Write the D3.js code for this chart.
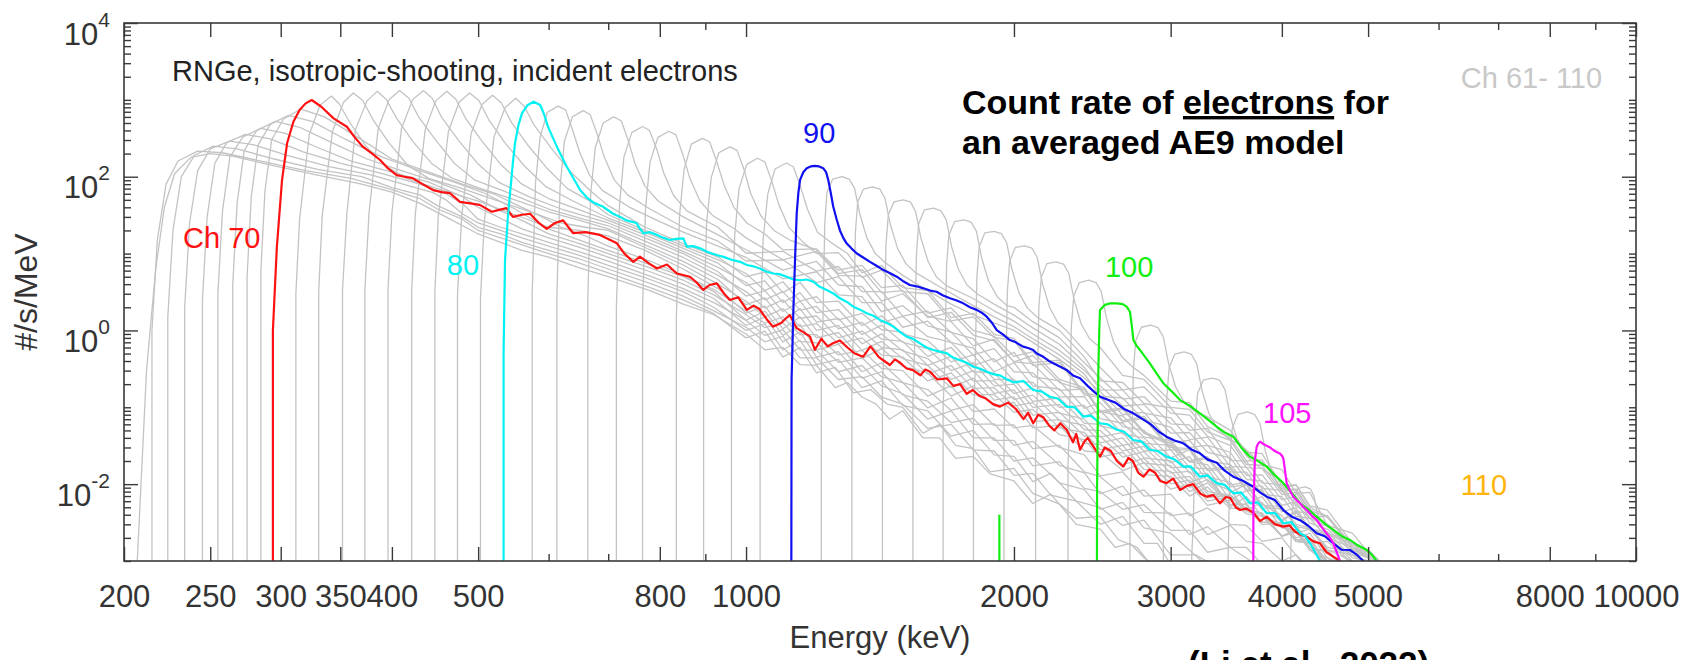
<!DOCTYPE html>
<html>
<head>
<meta charset="utf-8">
<script src="https://cdn.jsdelivr.net/npm/d3@7"></script>
<style>
  body { margin: 0; background: #fff; }
  svg { display: block; font-family: "Liberation Sans", Arial, Helvetica, sans-serif; }
</style>
</head>
<body>
<script>
var w = 1683;
var h = 660;
var plotLeft = 124, plotRight = 1636, plotTop = 23, plotBottom = 561;

// ---- tick labels ----
var xTickValues = [200, 250, 300, 350, 400, 500, 800, 1000, 2000, 3000, 4000, 5000, 8000, 10000];
var xMinorValues = [600, 700, 900, 6000, 7000, 9000];
var yTickValues = [1e4, 1e2, 1, 1e-2];
var yTickExponents = ["4", "2", "0", "-2"];

// ---- channel labels (energy keV, count rate) ----
var labelText = ["Ch 70", "80", "90", "100", "105", "110", "Ch 61- 110"];
var labelE = [233, 461, 1159, 2531, 3810, 6355, 6355];
var labelV = [11.8, 5.26, 275, 4.96, 0.0625, 0.00723, 1426];

// ---- highlighted channels [energy keV, #/s/MeV] ----
var ch70 = [[294,1e-4],[294,1],[297,12],[301,90],[305,272],[310,520],[315,738],[320,900],[325,996],[333,820],[344,575],[356,447],[363,330],[371,246],[380,200],[388,165],[396,128],[405,105],[413,100],[422,96],[433,80],[445,67],[455,63],[465,61],[477,47],[490,45],[502,43],[518,35],[528,37],[538,39],[547,30],[560,32],[572,33],[585,25],[597,21],[610,25],[623,27],[639,18.5],[660,19],[685,17.5],[700,15.5],[716,13.6],[730,10],[747,7.8],[760,9.1],[777,7.5],[794,6.4],[815,7.2],[836,5.5],[865,5.0],[880,4.2],[895,3.36],[910,3.9],[927,4.1],[945,3.0],[959,2.49],[980,2.7],[1002,1.85],[1020,2.1],[1035,1.9],[1055,1.4],[1072,1.12],[1095,1.25],[1110,1.45],[1120,1.58],[1140,1.07],[1160,0.95],[1180,0.83],[1195,0.56],[1215,0.78],[1235,0.62],[1252,0.68],[1275,0.74],[1300,0.6],[1325,0.5],[1354,0.455],[1380,0.62],[1410,0.45],[1430,0.4],[1451,0.355],[1470,0.42],[1490,0.38],[1515,0.32],[1540,0.305],[1570,0.26],[1590,0.31],[1610,0.29],[1640,0.23],[1681,0.238],[1710,0.19],[1740,0.2],[1770,0.15],[1798,0.168],[1830,0.14],[1860,0.13],[1895,0.11],[1929,0.102],[1970,0.115],[2010,0.095],[2050,0.07],[2075,0.085],[2102,0.062],[2130,0.08],[2156,0.075],[2190,0.058],[2220,0.05],[2255,0.062],[2292,0.051],[2330,0.035],[2350,0.045],[2373,0.028],[2400,0.036],[2420,0.04],[2460,0.03],[2499,0.0228],[2530,0.03],[2570,0.027],[2610,0.02],[2654,0.0169],[2690,0.022],[2720,0.02],[2760,0.014],[2796,0.0125],[2840,0.0155],[2880,0.0142],[2920,0.011],[2968,0.0103],[3020,0.0118],[3074,0.0084],[3130,0.0095],[3180,0.01],[3240,0.0075],[3294,0.00687],[3350,0.0072],[3409,0.00563],[3460,0.0068],[3500,0.0066],[3550,0.005],[3590,0.00461],[3650,0.0048],[3720,0.0042],[3780,0.0033],[3846,0.00378],[3930,0.003],[4014,0.0028],[4080,0.0029],[4140,0.0024],[4200,0.0022],[4266,0.00207],[4340,0.0018],[4414,0.0017],[4490,0.0013],[4570,0.00114],[4649,0.001],[4700,0.0008]];
var ch80 = [[534,1e-4],[534,0.5],[536,8.2],[540,30],[543,61],[547,150],[550,272],[555,470],[560,668],[568,850],[577,946],[587,857],[593,650],[599,448],[606,330],[613,246],[621,180],[629,135],[640,95],[651,67],[662,54],[674,46],[690,41],[709,33],[722,30],[734,27],[753,25],[760,21],[767,18.4],[780,19],[794,17.5],[808,16],[821,15],[835,15.5],[850,15.8],[858,12.3],[872,12.5],[888,11.7],[905,10.5],[927,9.6],[945,9.0],[967,8.2],[985,7.8],[1002,7.1],[1020,6.8],[1037,6.4],[1055,5.8],[1073,5.5],[1090,5.4],[1111,5.0],[1130,4.6],[1150,4.5],[1170,4.6],[1190,4.3],[1210,3.7],[1232,3.36],[1255,3.0],[1275,2.62],[1298,2.35],[1320,2.04],[1345,1.85],[1366,1.67],[1390,1.55],[1414,1.37],[1440,1.25],[1464,1.12],[1490,0.95],[1515,0.83],[1540,0.78],[1568,0.68],[1595,0.6],[1624,0.557],[1650,0.53],[1681,0.505],[1710,0.44],[1740,0.41],[1770,0.38],[1800,0.337],[1830,0.32],[1864,0.29],[1895,0.27],[1929,0.26],[1965,0.23],[2000,0.21],[2050,0.22],[2102,0.168],[2150,0.16],[2195,0.137],[2240,0.13],[2292,0.102],[2340,0.1],[2393,0.0755],[2440,0.078],[2499,0.062],[2550,0.06],[2609,0.051],[2660,0.048],[2724,0.0375],[2780,0.036],[2843,0.028],[2900,0.027],[2968,0.0228],[3030,0.021],[3099,0.0169],[3160,0.017],[3236,0.0125],[3300,0.013],[3379,0.0103],[3450,0.0098],[3528,0.0076],[3600,0.0078],[3683,0.00563],[3760,0.0058],[3846,0.00418],[3930,0.0042],[4015,0.0031],[4100,0.0032],[4192,0.0023],[4250,0.0021],[4302,0.0017],[4360,0.0013],[4414,0.001],[4450,0.0008]];
var ch90 = [[1124,1e-4],[1125,0.23],[1130,1.67],[1135,8],[1140,33],[1145,62],[1150,91],[1160,115],[1170,129],[1182,136],[1195,138],[1208,136],[1221,129],[1230,115],[1237,91],[1245,62],[1253,41],[1264,28],[1275,20],[1286,16],[1297,13.6],[1314,11.6],[1331,10.1],[1354,8.9],[1378,7.8],[1400,7.0],[1427,6.1],[1450,5.6],[1477,5.0],[1500,4.4],[1528,3.9],[1555,3.75],[1582,3.53],[1610,3.3],[1637,3.19],[1665,2.85],[1695,2.62],[1725,2.45],[1754,2.25],[1785,2.0],[1816,1.85],[1840,1.7],[1864,1.51],[1890,1.25],[1913,1.01],[1945,0.88],[1979,0.75],[2010,0.7],[2048,0.615],[2075,0.59],[2102,0.557],[2120,0.505],[2160,0.45],[2195,0.393],[2240,0.35],[2292,0.306],[2330,0.26],[2373,0.238],[2420,0.19],[2460,0.16],[2499,0.137],[2550,0.125],[2600,0.115],[2660,0.095],[2724,0.0835],[2790,0.07],[2850,0.06],[2910,0.048],[2968,0.0415],[3030,0.037],[3100,0.034],[3170,0.028],[3236,0.0252],[3300,0.021],[3380,0.019],[3450,0.015],[3528,0.0125],[3620,0.011],[3714,0.00927],[3780,0.0078],[3846,0.00687],[3930,0.0062],[4015,0.0046],[4100,0.0038],[4192,0.0034],[4280,0.0029],[4377,0.0023],[4470,0.0021],[4570,0.0017],[4670,0.0014],[4771,0.00139],[4860,0.0012],[4938,0.001],[4980,0.0008]];
var ch100 = [[2478,1e-4],[2480,0.01],[2488,0.3],[2494,1.0],[2499,1.85],[2530,2.15],[2565,2.25],[2610,2.25],[2650,2.2],[2677,2.04],[2700,1.75],[2712,1.2],[2724,0.75],[2745,0.64],[2771,0.557],[2805,0.46],[2843,0.373],[2890,0.28],[2944,0.205],[3010,0.16],[3074,0.124],[3150,0.105],[3236,0.0835],[3310,0.068],[3379,0.056],[3450,0.047],[3528,0.0415],[3600,0.03],[3683,0.0228],[3760,0.02],[3846,0.0169],[3930,0.013],[4015,0.0103],[4100,0.0078],[4192,0.00563],[4280,0.0047],[4377,0.00378],[4480,0.003],[4570,0.00254],[4670,0.0021],[4771,0.00188],[4870,0.0016],[4981,0.00139],[5050,0.0012],[5112,0.001],[5150,0.0008]];
var ch100Spike = [[1926,1e-4],[1926,0.004]];
var ch105 = [[3714,1e-4],[3716,0.005],[3730,0.02],[3748,0.0308],[3765,0.034],[3781,0.0357],[3810,0.0335],[3846,0.0315],[3880,0.03],[3912,0.0278],[3950,0.026],[3980,0.025],[4000,0.0235],[4015,0.0217],[4030,0.016],[4050,0.0103],[4085,0.0082],[4120,0.00687],[4155,0.0062],[4192,0.00563],[4230,0.005],[4266,0.0046],[4320,0.0039],[4377,0.00342],[4430,0.0028],[4491,0.00229],[4530,0.002],[4570,0.0017],[4610,0.0013],[4649,0.001],[4680,0.0008]];

// ---- the other channels of Ch 61-110, drawn in gray ----
var ch61 = [[205,1e-4],[212,0.3],[217,6],[222,40],[228,110],[238,180],[250,200],[265,185],[290,145],[330,105],[370,80],[400,63],[430,45],[460,30],[500,18],[530,14],[560,11],[600,9],[650,6.5],[700,5],[780,3.3],[850,2.2],[920,1.6],[1000,0.9],[1050,0.56],[1100,0.6],[1150,0.36],[1200,0.35],[1260,0.18],[1300,0.21],[1350,0.136],[1400,0.11],[1450,0.07],[1500,0.09],[1580,0.04],[1650,0.04],[1720,0.0216],[1800,0.023],[1880,0.0136],[2000,0.011],[2100,0.0056],[2200,0.0074],[2350,0.003],[2500,0.0026],[2600,0.0015],[2700,0.0017],[2800,0.0011],[2900,0.0008]];
var ch62 = [[215,1e-4],[215,1],[218,15],[223,80],[230,160],[242,215],[258,205],[285,160],[320,120],[360,95],[400,68],[430,52],[450,38],[480,28],[500,20],[530,16],[560,13],[600,10],[650,7.5],[700,5.6],[780,3.6],[850,2.5],[920,1.65],[1000,0.8],[1050,0.98],[1100,0.45],[1150,0.6],[1200,0.28],[1260,0.33],[1320,0.154],[1380,0.17],[1440,0.11],[1500,0.1],[1580,0.046],[1650,0.06],[1720,0.032],[1800,0.029],[1880,0.0144],[2000,0.016],[2100,0.0076],[2250,0.0055],[2350,0.0036],[2500,0.0038],[2620,0.0019],[2750,0.0015],[2850,0.0009],[3000,0.0008]];
var ch63 = [[224,1e-4],[224,1.5],[227,20],[232,100],[240,190],[252,250],[268,230],[295,170],[330,125],[370,100],[400,72],[430,58],[450,42],[480,30],[500,22],[530,18],[560,14],[600,11],[650,8.5],[700,6.3],[780,4.1],[850,2.8],[920,1.8],[1000,1.1],[1050,0.71],[1100,0.84],[1150,0.44],[1200,0.44],[1270,0.23],[1350,0.25],[1420,0.136],[1500,0.11],[1600,0.053],[1700,0.06],[1800,0.028],[1900,0.027],[2000,0.013],[2100,0.0138],[2200,0.0072],[2350,0.006],[2500,0.003],[2650,0.0038],[2800,0.0017],[2900,0.0017],[3000,0.0009],[3150,0.0008]];
var ch64 = [[234,1e-4],[234,2],[237,25],[242,120],[250,230],[263,290],[280,260],[305,190],[340,135],[380,105],[420,75],[445,62],[460,50],[480,33],[500,25],[530,20],[560,16],[600,12.5],[650,9.5],[700,7],[780,4.6],[850,3.2],[920,2.0],[1000,1.0],[1050,1.21],[1100,0.56],[1150,0.74],[1200,0.36],[1270,0.42],[1350,0.18],[1420,0.22],[1500,0.106],[1600,0.09],[1700,0.042],[1800,0.05],[1900,0.024],[2000,0.023],[2100,0.0108],[2200,0.0138],[2350,0.006],[2500,0.005],[2650,0.0029],[2800,0.0034],[3000,0.0012],[3200,0.0012],[3400,0.0008]];
var ch65 = [[245,1e-4],[245,2.5],[248,30],[253,150],[261,280],[274,355],[292,310],[318,210],[350,150],[390,110],[430,80],[460,60],[480,45],[500,28],[530,22],[560,18],[600,14],[650,10.5],[700,8],[780,5.1],[850,3.5],[920,2.3],[1000,1.35],[1050,0.86],[1100,1.02],[1150,0.56],[1200,0.55],[1270,0.29],[1350,0.35],[1420,0.19],[1500,0.15],[1600,0.07],[1700,0.09],[1800,0.04],[1900,0.04],[2000,0.02],[2100,0.022],[2250,0.0104],[2400,0.0085],[2500,0.0047],[2650,0.0058],[2800,0.0027],[3000,0.0023],[3250,0.001],[3500,0.0008]];
var ch66 = [[255,1e-4],[255,3],[258,35],[263,180],[272,330],[285,425],[303,370],[330,240],[360,160],[400,115],[440,85],[480,55],[500,40],[520,32],[560,21],[600,16],[650,12],[700,9],[780,5.8],[850,4],[920,2.6],[1000,1.16],[1050,1.5],[1100,0.71],[1150,0.96],[1200,0.45],[1270,0.53],[1350,0.24],[1420,0.29],[1500,0.145],[1600,0.12],[1700,0.063],[1800,0.072],[1900,0.037],[2000,0.037],[2100,0.0173],[2250,0.0196],[2400,0.0088],[2500,0.008],[2650,0.0047],[2800,0.0054],[3000,0.0025],[3150,0.0025],[3300,0.0013],[3500,0.0015],[3800,0.0008]];
var ch67 = [[265,1e-4],[265,4],[268,45],[273,220],[282,400],[296,525],[315,440],[342,280],[375,170],[410,120],[450,85],[490,58],[530,36],[560,27],[600,18],[650,13.5],[700,10],[780,6.5],[850,4.5],[920,2.9],[1000,1.6],[1050,1.09],[1100,1.26],[1150,0.72],[1200,0.69],[1270,0.385],[1350,0.44],[1420,0.25],[1500,0.21],[1600,0.098],[1700,0.132],[1800,0.06],[1900,0.061],[2000,0.032],[2100,0.036],[2250,0.0176],[2400,0.014],[2500,0.0075],[2650,0.0094],[2800,0.0043],[3000,0.0042],[3150,0.0022],[3300,0.0028],[3500,0.0015],[3650,0.0015],[3800,0.0009],[4000,0.0008]];
var ch68 = [[275,1e-4],[275,5],[278,55],[283,260],[292,480],[306,630],[326,520],[354,310],[390,180],[430,120],[470,85],[510,60],[550,38],[575,28],[600,21],[650,15],[700,11],[780,7.2],[850,5],[920,3.2],[1000,1.36],[1050,1.78],[1100,0.86],[1150,1.2],[1200,0.56],[1270,0.66],[1350,0.29],[1420,0.38],[1500,0.21],[1600,0.17],[1700,0.091],[1800,0.108],[1900,0.058],[2000,0.059],[2100,0.029],[2250,0.032],[2400,0.0144],[2500,0.0125],[2650,0.0071],[2800,0.0084],[3000,0.0039],[3150,0.0042],[3300,0.0022],[3500,0.0029],[3650,0.0018],[3800,0.0017],[4000,0.001],[4150,0.0012],[4300,0.0008]];
var ch69 = [[285,1e-4],[285,6],[288,65],[293,300],[302,560],[316,760],[336,600],[364,340],[400,170],[440,115],[480,80],[520,60],[560,40],[590,30],[620,22],[660,17],[700,12.5],[780,8],[850,5.2],[920,3.4],[1000,1.8],[1050,1.24],[1100,1.5],[1150,0.88],[1200,0.88],[1270,0.48],[1350,0.55],[1420,0.32],[1500,0.3],[1600,0.14],[1700,0.19],[1800,0.088],[1900,0.095],[2000,0.054],[2100,0.058],[2250,0.03],[2400,0.024],[2500,0.0128],[2650,0.0144],[2800,0.007],[3000,0.0074],[3150,0.0039],[3300,0.0049],[3500,0.003],[3650,0.0029],[3800,0.0018],[4000,0.002],[4200,0.001],[4400,0.0008]];
var ch71 = [[312,1e-4],[312,3],[315,28],[323,355],[332,850],[342,1120],[349,890],[359,500],[374,250],[393,140],[415,95],[450,70],[500,48],[550,32],[600,22],[650,20],[700,17],[770,11],[850,6.3],[930,3.5],[1000,1.68],[1050,2.07],[1100,1.05],[1150,1.5],[1200,0.8],[1270,0.94],[1350,0.43],[1420,0.58],[1500,0.34],[1600,0.28],[1700,0.14],[1800,0.19],[1900,0.104],[2000,0.116],[2100,0.054],[2250,0.058],[2400,0.027],[2500,0.026],[2650,0.015],[2800,0.019],[3000,0.0086],[3150,0.01],[3300,0.0053],[3500,0.0062],[3650,0.0041],[3800,0.0038],[4000,0.0021],[4150,0.0026],[4300,0.0015],[4500,0.0013],[4700,0.0008]];
var ch72 = [[331,1e-4],[331,3.2],[334,31],[343,390],[353,930],[362,1230],[371,980],[381,550],[397,275],[417,140],[440,95],[480,70],[530,47],[580,33],[620,25],[660,22],[700,20],[770,12],[850,7.1],[930,4],[1000,2.4],[1050,1.5],[1100,1.92],[1150,1.12],[1200,1.23],[1270,0.67],[1350,0.8],[1420,0.48],[1500,0.45],[1600,0.22],[1700,0.28],[1800,0.144],[1900,0.147],[2000,0.086],[2100,0.094],[2250,0.044],[2400,0.038],[2500,0.0225],[2650,0.026],[2800,0.0133],[3000,0.0126],[3150,0.007],[3300,0.0092],[3500,0.0048],[3650,0.005],[3800,0.003],[4000,0.0031],[4150,0.0019],[4300,0.0019],[4500,0.001],[4700,0.0008]];
var ch73 = [[352,1e-4],[352,3.3],[356,33],[364,410],[375,970],[385,1290],[394,1020],[405,575],[422,290],[443,150],[468,95],[500,72],[550,50],[600,35],[650,27],[700,21],[770,13],[850,7.9],[930,4.6],[1000,2.16],[1050,2.65],[1100,1.35],[1150,1.92],[1200,1.0],[1270,1.16],[1350,0.55],[1420,0.72],[1500,0.43],[1600,0.35],[1700,0.18],[1800,0.24],[1900,0.124],[2000,0.137],[2100,0.065],[2250,0.069],[2400,0.034],[2500,0.033],[2650,0.018],[2800,0.0216],[3000,0.0101],[3150,0.0113],[3300,0.006],[3500,0.0069],[3650,0.0044],[3800,0.004],[4000,0.0021],[4150,0.0025],[4300,0.0014],[4500,0.0011],[4650,0.0008]];
var ch74 = [[373,1e-4],[373,3.4],[377,34],[386,420],[397,1000],[408,1320],[418,1050],[429,590],[448,300],[470,150],[496,90],[540,62],[600,38],[650,29],[700,23],[770,14.5],[850,8.9],[930,5.2],[1000,3.2],[1050,1.95],[1100,2.5],[1150,1.44],[1200,1.54],[1270,0.8],[1350,0.98],[1420,0.6],[1500,0.56],[1600,0.27],[1700,0.35],[1800,0.176],[1900,0.18],[2000,0.104],[2100,0.115],[2250,0.054],[2400,0.047],[2500,0.028],[2650,0.032],[2800,0.0156],[3000,0.0147],[3150,0.008],[3300,0.0104],[3500,0.0054],[3650,0.0054],[3800,0.0032],[4000,0.0031],[4150,0.0018],[4300,0.0018],[4500,0.0009],[4650,0.0008]];
var ch75 = [[396,1e-4],[396,3.4],[400,34],[410,420],[422,1000],[434,1320],[444,1050],[455,590],[475,300],[499,150],[527,85],[570,55],[620,38],[700,25],[770,16],[850,10],[930,5.8],[1000,2.8],[1050,3.3],[1100,1.76],[1150,2.4],[1200,1.28],[1270,1.43],[1350,0.67],[1420,0.9],[1500,0.54],[1600,0.43],[1700,0.23],[1800,0.3],[1900,0.152],[2000,0.168],[2100,0.079],[2250,0.086],[2400,0.042],[2500,0.042],[2650,0.0225],[2800,0.0264],[3000,0.0117],[3150,0.0126],[3300,0.0067],[3500,0.0072],[3650,0.0047],[3800,0.0042],[4000,0.0021],[4150,0.0024],[4300,0.0014],[4500,0.001],[4600,0.0008]];
var ch76 = [[421,1e-4],[421,3.3],[425,33],[436,410],[448,970],[461,1290],[472,1020],[484,575],[505,290],[530,145],[560,80],[600,52],[650,37],[700,27],[770,17.5],[850,10.7],[930,6.6],[1000,4.2],[1050,2.5],[1100,3.2],[1150,1.84],[1200,2.05],[1270,1.05],[1350,1.27],[1420,0.77],[1500,0.72],[1600,0.35],[1700,0.46],[1800,0.22],[1900,0.22],[2000,0.126],[2100,0.144],[2250,0.068],[2400,0.058],[2500,0.0345],[2650,0.04],[2800,0.0187],[3000,0.0174],[3150,0.0091],[3300,0.0115],[3500,0.0054],[3650,0.0055],[3800,0.0032],[4000,0.0031],[4150,0.0018],[4300,0.0017],[4500,0.0008],[4600,0.0007]];
var ch77 = [[447,1e-4],[447,3.1],[451,31],[463,390],[476,930],[489,1230],[501,980],[514,550],[536,275],[563,140],[595,75],[640,48],[700,29],[770,19],[850,11.7],[930,7.5],[1000,3.84],[1050,4.4],[1100,2.3],[1150,3.1],[1200,1.7],[1270,1.87],[1350,0.88],[1420,1.17],[1500,0.7],[1600,0.58],[1700,0.3],[1800,0.38],[1900,0.19],[2000,0.2],[2100,0.1],[2250,0.109],[2400,0.051],[2500,0.05],[2650,0.027],[2800,0.031],[3000,0.014],[3150,0.0147],[3300,0.0074],[3500,0.0072],[3650,0.0047],[3800,0.0042],[4000,0.0021],[4150,0.0024],[4300,0.0014],[4500,0.001],[4600,0.0008]];
var ch78 = [[474,1e-4],[474,2.9],[479,29],[491,365],[505,870],[519,1150],[531,910],[545,510],[569,255],[597,130],[630,70],[670,47],[700,32],[770,20],[850,12.6],[930,8.3],[1000,5.5],[1050,3.3],[1100,4.3],[1150,2.4],[1200,2.75],[1270,1.37],[1350,1.67],[1420,1.02],[1500,0.95],[1600,0.46],[1700,0.6],[1800,0.29],[1900,0.28],[2000,0.151],[2100,0.178],[2250,0.084],[2400,0.07],[2500,0.041],[2650,0.047],[2800,0.022],[3000,0.02],[3150,0.0105],[3300,0.0127],[3500,0.0054],[3650,0.0055],[3800,0.0032],[4000,0.0031],[4150,0.0018],[4300,0.0017],[4500,0.0008],[4600,0.0007]];
var ch79 = [[503,1e-4],[503,2.6],[508,26],[521,330],[536,790],[551,1050],[563,830],[578,470],[604,235],[634,118],[669,65],[700,42],[770,22],[850,13.5],[930,9],[1000,5.0],[1050,5.75],[1100,3.1],[1150,4.2],[1200,2.3],[1270,2.4],[1350,1.16],[1420,1.55],[1500,0.9],[1600,0.74],[1700,0.39],[1800,0.48],[1900,0.23],[2000,0.23],[2100,0.119],[2250,0.132],[2400,0.062],[2500,0.06],[2650,0.032],[2800,0.036],[3000,0.0164],[3150,0.0168],[3300,0.008],[3500,0.0072],[3650,0.0047],[3800,0.0042],[4000,0.0021],[4150,0.0024],[4300,0.0014],[4450,0.001],[4550,0.0008]];
var ch81 = [[575,1e-4],[575,3],[580,83],[587,330],[598,690],[615,830],[627,740],[638,415],[650,210],[667,105],[690,66],[740,40],[800,26],[850,19],[930,12.5],[1000,8.9],[1100,4.7],[1200,5.8],[1270,2.9],[1350,2.75],[1420,1.26],[1500,1.52],[1600,0.83],[1700,0.7],[1800,0.35],[1900,0.43],[2000,0.22],[2100,0.21],[2250,0.1],[2400,0.106],[2500,0.057],[2650,0.05],[2800,0.027],[3000,0.028],[3150,0.014],[3300,0.0137],[3500,0.005],[3650,0.0069],[3800,0.0038],[4000,0.003],[4150,0.0018],[4300,0.002],[4500,0.0009],[4600,0.0008]];
var ch82 = [[613,1e-4],[613,3],[618,72],[625,290],[638,600],[656,725],[668,645],[680,365],[693,180],[711,91],[736,58],[780,38],[850,22],[930,14.5],[1000,8],[1100,8.3],[1200,4.2],[1270,5.0],[1350,2.3],[1420,2.3],[1500,1.1],[1600,1.32],[1700,0.7],[1800,0.59],[1900,0.29],[2000,0.38],[2100,0.19],[2250,0.173],[2400,0.076],[2500,0.091],[2650,0.045],[2800,0.04],[3000,0.019],[3150,0.0228],[3300,0.0109],[3500,0.0083],[3650,0.0046],[3800,0.0058],[4000,0.0027],[4150,0.0025],[4300,0.0014],[4500,0.0014],[4700,0.0008]];
var ch83 = [[664,1e-4],[664,2.5],[669,60],[677,240],[691,500],[710,600],[724,535],[737,300],[750,150],[770,75],[797,48],[850,30],[930,17.5],[1000,11.2],[1100,6.1],[1200,7.9],[1270,3.9],[1350,3.7],[1420,1.75],[1500,2.1],[1600,1.15],[1700,0.95],[1800,0.48],[1900,0.58],[2000,0.29],[2100,0.28],[2250,0.137],[2400,0.138],[2500,0.071],[2650,0.062],[2800,0.034],[3000,0.032],[3150,0.0164],[3300,0.0158],[3500,0.0062],[3650,0.0083],[3800,0.0047],[4000,0.0034],[4150,0.002],[4300,0.0023],[4500,0.0011],[4800,0.0008]];
var ch84 = [[715,1e-4],[715,2],[721,45],[729,180],[744,375],[765,450],[779,400],[794,225],[808,113],[829,57],[858,36],[930,22],[1000,10.1],[1100,10.7],[1200,5.9],[1270,6.8],[1350,3.2],[1420,3.2],[1500,1.54],[1600,1.78],[1700,0.94],[1800,0.78],[1900,0.39],[2000,0.52],[2100,0.25],[2250,0.22],[2400,0.097],[2500,0.115],[2650,0.056],[2800,0.05],[3000,0.022],[3150,0.028],[3300,0.0125],[3500,0.0105],[3650,0.0056],[3800,0.0069],[4000,0.0031],[4150,0.0029],[4300,0.0017],[4500,0.0018],[4800,0.0009],[5000,0.0007]];
var ch85 = [[765,1e-4],[765,1.8],[771,39],[780,155],[796,325],[819,390],[834,350],[849,195],[864,98],[887,49],[918,31],[970,21],[1000,16],[1100,8.3],[1200,10.7],[1270,5.2],[1350,5.1],[1420,2.4],[1500,3.0],[1600,1.53],[1700,1.3],[1800,0.63],[1900,0.77],[2000,0.39],[2100,0.37],[2250,0.166],[2400,0.173],[2500,0.088],[2650,0.077],[2800,0.041],[3000,0.037],[3150,0.0195],[3300,0.0179],[3500,0.0077],[3650,0.01],[3800,0.0055],[4000,0.0039],[4150,0.0023],[4300,0.0026],[4500,0.0014],[4800,0.001],[5000,0.0008]];
var ch86 = [[835,1e-4],[835,1.5],[842,32],[852,126],[868,265],[893,316],[910,285],[927,158],[944,80],[969,40],[1002,25],[1050,18],[1100,11.2],[1200,11.5],[1270,5.5],[1350,6.2],[1420,3.1],[1500,3.3],[1600,1.47],[1700,1.72],[1800,0.87],[1900,0.73],[2000,0.39],[2100,0.47],[2250,0.21],[2400,0.168],[2500,0.085],[2650,0.094],[2800,0.046],[3000,0.032],[3150,0.0195],[3300,0.0216],[3500,0.0092],[3650,0.0098],[3800,0.0049],[4000,0.0048],[4150,0.0028],[4300,0.0026],[4500,0.0014],[4800,0.0012],[5000,0.0009]];
var ch87 = [[896,1e-4],[896,1.2],[903,25],[914,98],[932,205],[959,245],[977,220],[995,123],[1012,61],[1039,31],[1075,20],[1120,15],[1200,11.2],[1270,6.1],[1350,7.0],[1420,3.6],[1500,3.85],[1600,1.68],[1700,1.96],[1800,1.0],[1900,0.84],[2000,0.46],[2100,0.53],[2250,0.23],[2400,0.18],[2500,0.089],[2650,0.098],[2800,0.048],[3000,0.034],[3150,0.02],[3300,0.0228],[3500,0.0098],[3650,0.0105],[3800,0.0053],[4000,0.0051],[4150,0.003],[4300,0.0027],[4500,0.0015],[4800,0.0013],[5000,0.0009]];
var ch88 = [[963,1e-4],[963,0.9],[971,17],[982,70],[1002,145],[1030,174],[1050,155],[1069,87],[1088,44],[1117,22],[1156,14.5],[1200,10],[1270,10.3],[1350,4.9],[1420,6.1],[1500,3.2],[1600,3.0],[1700,1.33],[1800,1.5],[1900,0.81],[2000,0.74],[2100,0.35],[2250,0.38],[2400,0.144],[2500,0.135],[2650,0.064],[2800,0.072],[3000,0.028],[3150,0.028],[3300,0.015],[3500,0.0158],[3650,0.0082],[3800,0.0082],[4000,0.0033],[4150,0.0043],[4300,0.0025],[4500,0.0021],[4800,0.0009],[5000,0.0009]];
var ch89 = [[1037,1e-4],[1037,0.8],[1045,15],[1058,60],[1078,126],[1110,151],[1130,135],[1151,75],[1172,38],[1203,19],[1245,14],[1300,10],[1350,5.6],[1420,7.0],[1500,3.6],[1600,3.3],[1700,1.47],[1800,1.67],[1900,0.89],[2000,0.79],[2100,0.38],[2250,0.41],[2400,0.152],[2500,0.142],[2650,0.067],[2800,0.076],[3000,0.03],[3150,0.029],[3300,0.0158],[3500,0.0166],[3650,0.0086],[3800,0.0085],[4000,0.0034],[4150,0.0045],[4300,0.0026],[4500,0.0022],[4800,0.001],[5000,0.0009]];
var ch91 = [[1215,1e-4],[1215,0.3],[1220,1.3],[1226,25],[1233,63],[1251,93],[1282,100],[1306,93],[1324,71],[1343,32],[1367,16],[1397,10],[1434,7.6],[1500,5.2],[1600,3.3],[1700,2.2],[1800,1.6],[1900,1.25],[2000,1.0],[2100,0.7],[2250,0.42],[2400,0.24],[2500,0.16],[2650,0.08],[2800,0.086],[3000,0.035],[3150,0.037],[3300,0.02],[3500,0.018],[3650,0.0098],[3800,0.0094],[4000,0.0044],[4150,0.0049],[4300,0.0026],[4500,0.0024],[4800,0.0011],[5000,0.001],[5100,0.0008]];
var ch92 = [[1315,1e-4],[1315,0.25],[1320,0.93],[1327,19],[1335,47],[1355,69],[1387,74],[1414,69],[1433,52],[1453,23.5],[1480,11.7],[1512,7.4],[1552,5.6],[1650,3.7],[1800,2.1],[1900,1.5],[2000,1.12],[2100,0.78],[2250,0.48],[2400,0.27],[2500,0.14],[2650,0.132],[2800,0.068],[3000,0.055],[3150,0.03],[3300,0.032],[3500,0.0143],[3650,0.0143],[3800,0.0074],[4000,0.0069],[4150,0.0038],[4300,0.0036],[4500,0.002],[4800,0.0015],[5000,0.0011],[5150,0.0008]];
var ch93 = [[1423,1e-4],[1423,0.18],[1429,0.63],[1436,12.6],[1445,32],[1466,47],[1501,50],[1530,47],[1551,35],[1572,16],[1601,8],[1636,5],[1680,3.8],[1800,2.6],[1900,1.8],[2000,1.32],[2100,0.9],[2250,0.55],[2400,0.3],[2500,0.19],[2650,0.104],[2800,0.109],[3000,0.046],[3150,0.047],[3300,0.026],[3500,0.022],[3650,0.0115],[3800,0.011],[4000,0.0053],[4150,0.0059],[4300,0.0031],[4500,0.0026],[4800,0.0013],[5000,0.0011],[5150,0.0008]];
var ch94 = [[1540,1e-4],[1540,0.14],[1546,0.5],[1554,9.8],[1563,24.5],[1586,37],[1625,39],[1656,36],[1679,27.5],[1702,12.3],[1733,6.2],[1771,3.9],[1818,3.0],[1900,2.2],[2000,1.58],[2100,1.08],[2250,0.66],[2400,0.33],[2500,0.168],[2650,0.167],[2800,0.084],[3000,0.073],[3150,0.038],[3300,0.041],[3500,0.017],[3650,0.0165],[3800,0.0088],[4000,0.0083],[4150,0.0044],[4300,0.0042],[4500,0.0022],[4800,0.0017],[5000,0.0011],[5150,0.0008]];
var ch95 = [[1665,1e-4],[1665,0.1],[1672,0.35],[1680,6.9],[1690,17.3],[1715,26],[1757,27.5],[1790,25.6],[1815,19.5],[1840,8.7],[1873,4.4],[1915,2.75],[1965,2.1],[2000,2.0],[2100,1.3],[2250,0.8],[2400,0.38],[2500,0.24],[2650,0.128],[2800,0.138],[3000,0.061],[3150,0.059],[3300,0.032],[3500,0.026],[3650,0.013],[3800,0.0132],[4000,0.0063],[4150,0.0069],[4300,0.0036],[4500,0.0028],[4800,0.0014],[5000,0.0011],[5150,0.0008]];
var ch96 = [[1801,1e-4],[1801,0.07],[1808,0.25],[1817,4.9],[1828,12.3],[1855,18.6],[1900,19.5],[1936,18.2],[1963,13.8],[1990,6.2],[2026,3.1],[2071,1.95],[2125,1.48],[2250,1.0],[2400,0.45],[2500,0.22],[2650,0.21],[2800,0.112],[3000,0.098],[3150,0.05],[3300,0.053],[3500,0.0205],[3650,0.0198],[3800,0.0104],[4000,0.0098],[4150,0.0051],[4300,0.0048],[4500,0.0023],[4800,0.0018],[5000,0.0012],[5200,0.0008]];
var ch97 = [[1949,1e-4],[1949,0.045],[1957,0.16],[1966,3.2],[1978,8],[2007,12],[2056,12.6],[2095,11.8],[2124,8.9],[2154,4.0],[2193,2.0],[2241,1.26],[2300,0.95],[2400,0.55],[2500,0.33],[2650,0.168],[2800,0.184],[3000,0.084],[3150,0.079],[3300,0.042],[3500,0.032],[3650,0.0164],[3800,0.016],[4000,0.0073],[4150,0.0078],[4300,0.004],[4500,0.003],[4800,0.0014],[5000,0.0012],[5200,0.0008]];
var ch98 = [[2115,1e-4],[2115,0.03],[2123,0.1],[2133,2.0],[2147,4.9],[2178,7.4],[2231,7.8],[2274,7.3],[2305,5.5],[2337,2.5],[2379,1.23],[2432,0.78],[2500,0.6],[2650,0.26],[2800,0.23],[3000,0.1],[3150,0.094],[3300,0.048],[3500,0.037],[3650,0.018],[3800,0.0176],[4000,0.008],[4150,0.0085],[4300,0.0044],[4500,0.003],[4800,0.0014],[5000,0.0012],[5200,0.0008]];
var ch99 = [[2300,1e-4],[2300,0.018],[2309,0.06],[2320,1.13],[2335,2.8],[2369,4.2],[2427,4.5],[2473,4.2],[2507,3.2],[2542,1.42],[2588,0.71],[2645,0.45],[2714,0.34],[2800,0.26],[3000,0.12],[3150,0.115],[3300,0.056],[3500,0.04],[3650,0.02],[3800,0.0207],[4000,0.0086],[4150,0.0086],[4300,0.0046],[4500,0.0037],[4800,0.0015],[5000,0.0012],[5200,0.0008]];
var ch101 = [[2700,1e-4],[2700,0.005],[2711,0.015],[2724,0.3],[2741,0.74],[2781,1.1],[2849,1.17],[2903,1.09],[2943,0.83],[2984,0.37],[3038,0.185],[3105,0.117],[3186,0.09],[3300,0.075],[3500,0.05],[3650,0.026],[3800,0.025],[4000,0.0096],[4150,0.0098],[4300,0.005],[4500,0.0038],[4800,0.0015],[5000,0.0013],[5250,0.0008]];
var ch102 = [[2944,1e-4],[2944,0.0026],[2956,0.0066],[2970,0.13],[2988,0.33],[3032,0.49],[3106,0.525],[3165,0.49],[3209,0.37],[3253,0.166],[3312,0.083],[3386,0.0525],[3474,0.04],[3600,0.032],[3800,0.018],[4000,0.0155],[4150,0.0076],[4300,0.0078],[4500,0.0029],[4800,0.0023],[5000,0.0013],[5250,0.0008]];
var ch103 = [[3168,1e-4],[3168,0.0012],[3181,0.003],[3196,0.06],[3216,0.15],[3263,0.225],[3342,0.24],[3405,0.225],[3453,0.17],[3501,0.076],[3564,0.038],[3643,0.024],[3738,0.018],[3900,0.013],[4000,0.0088],[4150,0.0098],[4300,0.0052],[4500,0.0046],[4800,0.0017],[5000,0.0014],[5250,0.0008]];
var ch104 = [[3467,1e-4],[3467,0.0005],[3481,0.0011],[3497,0.022],[3519,0.054],[3571,0.081],[3658,0.087],[3727,0.081],[3779,0.062],[3831,0.0275],[3900,0.0138],[3987,0.0087],[4100,0.0063],[4300,0.0036],[4500,0.0039],[4800,0.0016],[5000,0.0014],[5250,0.0008]];
var ch106 = [[4084,1e-4],[4084,0.0003],[4100,0.0028],[4120,0.006],[4170,0.0088],[4250,0.0092],[4310,0.0086],[4350,0.0068],[4400,0.0034],[4480,0.0021],[4600,0.0016],[4800,0.0012],[5000,0.001],[5250,0.0007]];

var grayCurves = [ch61, ch62, ch63, ch64, ch65, ch66, ch67, ch68, ch69,
  ch71, ch72, ch73, ch74, ch75, ch76, ch77, ch78, ch79,
  ch81, ch82, ch83, ch84, ch85, ch86, ch87, ch88, ch89,
  ch91, ch92, ch93, ch94, ch95, ch96, ch97, ch98, ch99,
  ch101, ch102, ch103, ch104, ch106];

var colorCurves = [
  { pts: ch70, color: "#ff1111" },
  { pts: ch80, color: "#00f2f2" },
  { pts: ch90, color: "#1010f0" },
  { pts: ch100Spike, color: "#11ee11" },
  { pts: ch100, color: "#11ee11" },
  { pts: ch105, color: "#ff11ff" }
];
var labelColors = ["#ff1111", "#00f2f2", "#1010f0", "#11ee11", "#ff11ff", "#ffb40a", "#c8c8c8"];

// Create scales
var xScale = d3.scaleLog().domain([200, 10000]).range([plotLeft, plotRight]);
var yScale = d3.scaleLog().domain([1e-3, 1e4]).range([plotBottom, plotTop]);

var svg = d3.select("body").append("svg").attr("width", w).attr("height", h);

svg.append("clipPath").attr("id", "plotClip")
  .append("rect")
  .attr("x", plotLeft).attr("y", plotTop)
  .attr("width", plotRight - plotLeft).attr("height", plotBottom - plotTop);

var line = d3.line()
  .x(function (d) { return xScale(d[0]); })
  .y(function (d) { return yScale(d[1]); });

var plot = svg.append("g").attr("clip-path", "url(#plotClip)");

plot.selectAll(".gray")
  .data(grayCurves)
  .enter()
  .append("path")
  .attr("class", "gray")
  .attr("d", line)
  .attr("fill", "none")
  .attr("stroke", "#c3c3c3")
  .attr("stroke-width", 1.3)
  .attr("stroke-linejoin", "round");

plot.selectAll(".hl")
  .data(colorCurves)
  .enter()
  .append("path")
  .attr("class", "hl")
  .attr("d", function (d) { return line(d.pts); })
  .attr("fill", "none")
  .attr("stroke", function (d) { return d.color; })
  .attr("stroke-width", 2.2)
  .attr("stroke-linejoin", "round");

// Axes: ticks point inward on all four sides
var axisColor = "#3a3a3a";
function styleAxis(g) {
  g.select(".domain").remove();
  g.selectAll(".tick line").attr("stroke", axisColor).attr("stroke-width", 1.4);
  g.attr("font-size", 31).attr("font-family", null);
  g.selectAll(".tick text").attr("fill", "#333");
}

svg.append("g")
  .attr("transform", "translate(0," + plotBottom + ")")
  .call(d3.axisBottom(xScale).tickValues(xTickValues).tickSize(-14).tickSizeOuter(0)
    .tickPadding(24).tickFormat(d3.format("d")))
  .call(styleAxis);
svg.append("g")
  .attr("transform", "translate(0," + plotBottom + ")")
  .call(d3.axisBottom(xScale).tickValues(xMinorValues).tickSize(-7).tickSizeOuter(0).tickFormat(""))
  .call(styleAxis);
svg.append("g")
  .attr("transform", "translate(0," + plotTop + ")")
  .call(d3.axisTop(xScale).tickValues(xTickValues).tickSize(-14).tickSizeOuter(0).tickFormat(""))
  .call(styleAxis);
svg.append("g")
  .attr("transform", "translate(0," + plotTop + ")")
  .call(d3.axisTop(xScale).tickValues(xMinorValues).tickSize(-7).tickSizeOuter(0).tickFormat(""))
  .call(styleAxis);

var yMinor = yScale.ticks().filter(function (v) { return yTickValues.indexOf(v) < 0; });

var yLeft = svg.append("g")
  .attr("transform", "translate(" + plotLeft + ",0)")
  .call(d3.axisLeft(yScale).tickValues(yTickValues).tickSize(-14).tickSizeOuter(0).tickPadding(14))
  .call(styleAxis);
svg.append("g")
  .attr("transform", "translate(" + plotLeft + ",0)")
  .call(d3.axisLeft(yScale).tickValues(yMinor).tickSize(-7).tickSizeOuter(0).tickFormat(""))
  .call(styleAxis);
svg.append("g")
  .attr("transform", "translate(" + plotRight + ",0)")
  .call(d3.axisRight(yScale).tickValues(yTickValues).tickSize(-14).tickSizeOuter(0).tickFormat(""))
  .call(styleAxis);
svg.append("g")
  .attr("transform", "translate(" + plotRight + ",0)")
  .call(d3.axisRight(yScale).tickValues(yMinor).tickSize(-7).tickSizeOuter(0).tickFormat(""))
  .call(styleAxis);

// y labels as 10 with superscript exponent
yLeft.selectAll(".tick text").each(function (d, i) {
  var t = d3.select(this).text(null).attr("dy", null).attr("y", 21);
  t.append("tspan").text("10");
  t.append("tspan").attr("dy", -18).attr("font-size", 21).text(yTickExponents[i]);
});

// frame
svg.append("rect")
  .attr("x", plotLeft).attr("y", plotTop)
  .attr("width", plotRight - plotLeft).attr("height", plotBottom - plotTop)
  .attr("fill", "none").attr("stroke", axisColor).attr("stroke-width", 1.6);

// axis titles
svg.append("text")
  .attr("x", (plotLeft + plotRight) / 2).attr("y", 648)
  .attr("text-anchor", "middle").attr("font-size", 31).attr("fill", "#333")
  .text("Energy (keV)");
svg.append("text")
  .attr("transform", "translate(37," + (plotTop + plotBottom) / 2 + ") rotate(-90)")
  .attr("text-anchor", "middle").attr("font-size", 32).attr("fill", "#333")
  .text("#/s/MeV");

// channel labels
svg.selectAll(".chlabel")
  .data(labelText)
  .enter()
  .append("text")
  .attr("class", "chlabel")
  .attr("x", function (d, i) { return xScale(labelE[i]); })
  .attr("y", function (d, i) { return yScale(labelV[i]); })
  .attr("font-size", 29)
  .attr("fill", function (d, i) { return labelColors[i]; })
  .text(function (d) { return d; });

// annotations
svg.append("text")
  .attr("x", 172).attr("y", 81)
  .attr("font-size", 29).attr("fill", "#222")
  .text("RNGe, isotropic-shooting, incident electrons");

var note = svg.append("text")
  .attr("x", 962).attr("y", 114)
  .attr("font-size", 34).attr("font-weight", "bold").attr("fill", "#000");
note.append("tspan").text("Count rate of ");
note.append("tspan").attr("text-decoration", "underline").text("electrons");
note.append("tspan").text(" for");
svg.append("text")
  .attr("x", 962).attr("y", 154)
  .attr("font-size", 34).attr("font-weight", "bold").attr("fill", "#000")
  .text("an averaged AE9 model");

svg.append("text")
  .attr("x", 1188).attr("y", 676)
  .attr("font-size", 35).attr("font-weight", "bold").attr("fill", "#000")
  .text("(Li et al., 2022)");
</script>
</body>
</html>
